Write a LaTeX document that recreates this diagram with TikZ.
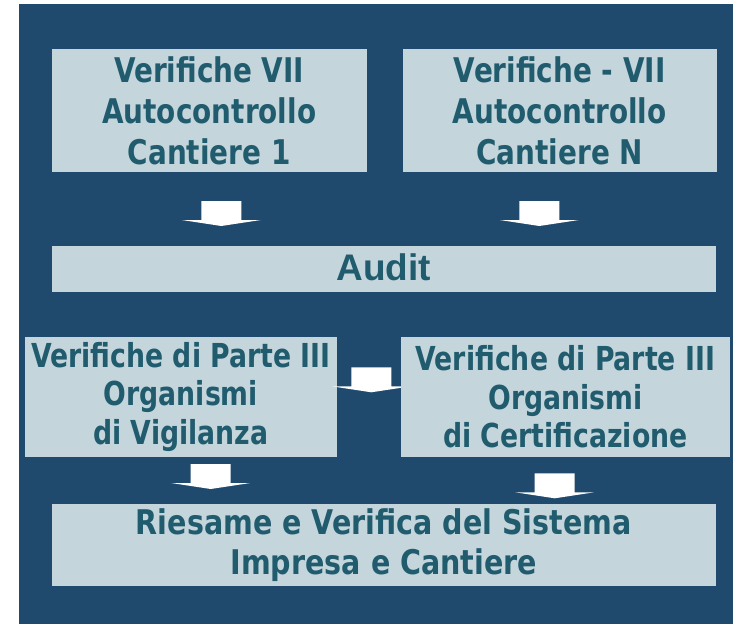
\documentclass[tikz,border=0pt]{standalone}
\usepackage{fontspec}
\newfontfamily\boxfont[FakeStretch=0.82]{DejaVu Sans}
\newfontfamily\partfont[FakeStretch=0.81]{DejaVu Sans}
\newfontfamily\reviewfont[FakeStretch=0.84]{DejaVu Sans}
\newfontfamily\auditfont{Liberation Sans}
\usetikzlibrary{calc}
\definecolor{bgblue}{HTML}{1F4A6E}
\definecolor{boxgrey}{HTML}{C4D5DC}
\definecolor{boxtext}{HTML}{215C6E}
\def\blockarrow(#1){\fill[white] ($(#1)+(-20,0)$) -- ($(#1)+(20,0)$) -- ($(#1)+(20,19)$) -- ($(#1)+(39.5,19)$) -- ($(#1)+(0,25)$) -- ($(#1)+(-39.5,19)$) -- ($(#1)+(-20,19)$) -- cycle;}
\tikzset{
  box/.style={fill=boxgrey, text=boxtext, inner sep=0pt, align=center,
    font=\boxfont\bfseries\fontsize{34}{41}\selectfont},
  partbox/.style={box, font=\partfont\bfseries\fontsize{33}{38.5}\selectfont}
}

\begin{document}
\begin{tikzpicture}[x=1pt,y=-1pt]
			%%%%% START %%%%%
			\useasboundingbox (0, 0) rectangle (733, 624);
			\fill[bgblue] (19, 4) rectangle (733, 624);
			
			\node[box, minimum width=315, minimum height=123.3] (site1) at (209.2, 110.5) {Verifiche VII\\Autocontrollo\\Cantiere 1};
			\node[box, minimum width=314, minimum height=123.3] (siteN) at (559.7, 110.5) {Verifiche - VII\\Autocontrollo\\Cantiere N};
			
			\coordinate (arr1) at (221.3, 201);
			\coordinate (arr2) at (539.3, 201);
			\blockarrow(arr1);
			\blockarrow(arr2);
			
			\node[box, minimum width=664.3, minimum height=45.7, text depth=3, font=\auditfont\bfseries\fontsize{37}{42}\selectfont] (audit) at (383.9, 268.9) {Audit};
			
			\node[partbox, minimum width=311.7, minimum height=120.6] (vigil) at (180.9, 397) {Verifiche di Parte III\\Organismi\\di Vigilanza};
			\coordinate (arr3) at (371.3, 367.3);
			\blockarrow(arr3);
			\node[partbox, minimum width=329.3, minimum height=120.6] (certif) at (565.4, 397) {Verifiche di Parte III\\Organismi\\di Certificazione};
			
			\coordinate (arr4) at (210.7, 464);
			\coordinate (arr5) at (554.7, 473.3);
			\blockarrow(arr4);
			\blockarrow(arr5);
			
			\node[box, minimum width=664.3, minimum height=81.7, font=\reviewfont\bfseries\fontsize{34}{40}\selectfont] (review) at (383.9, 544.8) {Riesame e Verifica del Sistema\\Impresa e Cantiere};
			%%%%% END %%%%%
\end{tikzpicture}
\end{document}
